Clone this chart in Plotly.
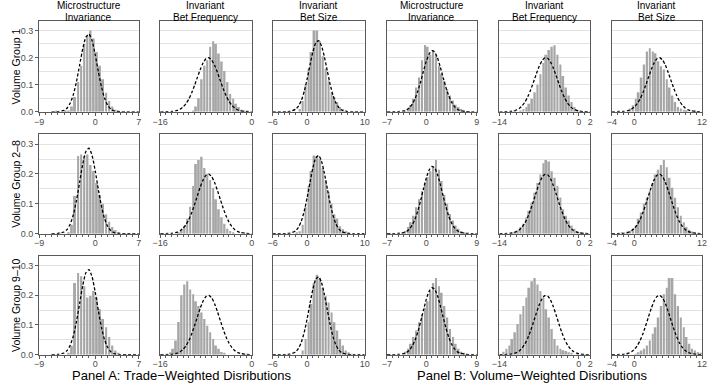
import plotly.graph_objects as go

W, H = 713, 386

# ---------------- data ----------------
col_title_top = ["Microstructure", "Invariant", "Invariant", "Microstructure", "Invariant", "Invariant"]
col_title_bottom = ["Invariance", "Bet Frequency", "Bet Size", "Invariance", "Bet Frequency", "Bet Size"]
row_labels = ["Volume Group 1", "Volume Group 2\u20138", "Volume Group 9\u201310"]
panel_labels = ["Panel A: Trade\u2212Weighted Disributions", "Panel B: Volume\u2212Weighted Disributions"]

x_ranges = [(-9, 7), (-16, 0), (-6, 10), (-7, 9), (-14, 2), (-4, 12)]
x_tickvals = [[-9, 0, 7], [-16, 0], [-6, 0, 10], [-7, 0, 9], [-14, 0, 2], [-4, 0, 12]]
y_tickvals = [0, 0.1, 0.2, 0.3]
y_ticktext = ["0.0", "0.1", "0.2", "0.3"]
bin_width = 0.5

# first bin centre of every histogram (rows x columns)
hist_start = [
    [-6.25, -10.25, -1.25, -3.75, -11.25, -2.75],
    [-5.75, -12.75, -1.75, -4.25, -11.75, -2.25],
    [-4.25, -14.25, -0.75, -3.75, -13.25, -1.25],
]

# densities of consecutive 0.5-wide bins
hist_r1c1 = [0.003, 0, 0, 0.002, 0.005, 0.02, 0.055, 0.11, 0.17, 0.25, 0.28, 0.30, 0.27, 0.22, 0.17, 0.12, 0.07, 0.04, 0.02, 0.008, 0.003]
hist_r1c2 = [0.005, 0.02, 0.05, 0.12, 0.17, 0.19, 0.24, 0.26, 0.25, 0.215, 0.185, 0.15, 0.11, 0.066, 0.048, 0.03, 0.018, 0.008, 0.003, 0.002]
hist_r1c3 = [0.01, 0.04, 0.10, 0.16, 0.22, 0.30, 0.30, 0.26, 0.205, 0.16, 0.115, 0.072, 0.054, 0.036, 0.018, 0.01, 0.005]
hist_r1c4 = [0.004, 0.012, 0.024, 0.048, 0.09, 0.126, 0.19, 0.246, 0.24, 0.21, 0.228, 0.21, 0.17, 0.14, 0.114, 0.084, 0.06, 0.042, 0.026, 0.018, 0.01, 0.005]
hist_r1c5 = [0.003, 0, 0.005, 0.01, 0.018, 0.03, 0.048, 0.072, 0.10, 0.138, 0.18, 0.21, 0.228, 0.24, 0.245, 0.21, 0.174, 0.132, 0.09, 0.06, 0.036, 0.018, 0.008]
hist_r1c6 = [0.003, 0, 0, 0, 0.012, 0.024, 0.048, 0.072, 0.126, 0.174, 0.222, 0.234, 0.222, 0.216, 0.186, 0.168, 0.156, 0.12, 0.09, 0.06, 0.036, 0.018, 0.012, 0.008, 0.006, 0, 0, 0.003]

hist_r2c1 = [0.003, 0, 0, 0.005, 0.03, 0.126, 0.26, 0.265, 0.26, 0.265, 0.23, 0.21, 0.17, 0.13, 0.10, 0.065, 0.04, 0.022, 0.012, 0.005]
hist_r2c2 = [0.004, 0.012, 0.025, 0.05, 0.09, 0.16, 0.233, 0.247, 0.258, 0.22, 0.20, 0.18, 0.154, 0.115, 0.082, 0.055, 0.033, 0.016, 0.009, 0.004]
hist_r2c3 = [0.003, 0.008, 0.03, 0.09, 0.16, 0.21, 0.262, 0.26, 0.25, 0.22, 0.18, 0.14, 0.10, 0.065, 0.05, 0.025, 0.015, 0.008, 0.004]
hist_r2c4 = [0.004, 0.009, 0.022, 0.038, 0.06, 0.088, 0.115, 0.143, 0.17, 0.19, 0.209, 0.225, 0.247, 0.214, 0.176, 0.13, 0.10, 0.066, 0.044, 0.027, 0.016, 0.009, 0.005]
hist_r2c5 = [0.004, 0.006, 0.011, 0.022, 0.033, 0.055, 0.077, 0.104, 0.137, 0.17, 0.198, 0.236, 0.247, 0.242, 0.209, 0.187, 0.16, 0.121, 0.082, 0.06, 0.044, 0.027, 0.016, 0.008, 0.005]
hist_r2c6 = [0.004, 0, 0.006, 0.01, 0.016, 0.027, 0.05, 0.071, 0.1, 0.121, 0.143, 0.17, 0.198, 0.214, 0.23, 0.247, 0.222, 0.187, 0.154, 0.12, 0.088, 0.06, 0.038, 0.022, 0.013, 0.007, 0.004]

hist_r3c1 = [0.005, 0.03, 0.241, 0.275, 0.264, 0.23, 0.192, 0.197, 0.214, 0.192, 0.153, 0.12, 0.092, 0.059, 0.031, 0.014, 0.006]
hist_r3c2 = [0.008, 0.02, 0.048, 0.11, 0.2, 0.236, 0.247, 0.219, 0.203, 0.18, 0.164, 0.142, 0.12, 0.097, 0.075, 0.053, 0.031, 0.02, 0.009, 0.005]
hist_r3c3 = [0.014, 0.053, 0.109, 0.17, 0.241, 0.269, 0.258, 0.225, 0.197, 0.175, 0.142, 0.109, 0.081, 0.053, 0.031, 0.014, 0.008, 0.003]
hist_r3c4 = [0.01, 0.02, 0.037, 0.059, 0.081, 0.109, 0.136, 0.158, 0.18, 0.214, 0.241, 0.258, 0.23, 0.208, 0.164, 0.125, 0.086, 0.059, 0.037, 0.02, 0.01, 0.005]
hist_r3c5 = [0.01, 0.02, 0.031, 0.053, 0.075, 0.103, 0.136, 0.164, 0.192, 0.225, 0.247, 0.258, 0.236, 0.214, 0.192, 0.153, 0.125, 0.086, 0.053, 0.031, 0.02, 0.015, 0.012, 0.008, 0.005, 0, 0.003]
hist_r3c6 = [0.005, 0, 0, 0.003, 0.008, 0.014, 0.02, 0.031, 0.048, 0.07, 0.092, 0.125, 0.164, 0.203, 0.225, 0.258, 0.258, 0.203, 0.164, 0.125, 0.092, 0.059, 0.037, 0.02, 0.014, 0.009, 0.006]

hist_values = [
    [hist_r1c1, hist_r1c2, hist_r1c3, hist_r1c4, hist_r1c5, hist_r1c6],
    [hist_r2c1, hist_r2c2, hist_r2c3, hist_r2c4, hist_r2c5, hist_r2c6],
    [hist_r3c1, hist_r3c2, hist_r3c3, hist_r3c4, hist_r3c5, hist_r3c6],
]

# benchmark (normal) density curves, one per column
curve_c1_x = [-7, -6, -5, -4.5, -4, -3.5, -3, -2.5, -2, -1.5, -1, -0.5, 0, 0.5, 1, 1.5, 2, 2.5, 3, 4, 5, 7]
curve_c1_y = [0, 0.0006, 0.0056, 0.0142, 0.0323, 0.0642, 0.1123, 0.1724, 0.2330, 0.2753, 0.2862, 0.2614, 0.2100, 0.1479, 0.0917, 0.0499, 0.0239, 0.0100, 0.0037, 0.0004, 0, 0]
curve_c2_x = [-16, -14, -13, -12.5, -12, -11.5, -11, -10.5, -10, -9.5, -9, -8.5, -8, -7.5, -7, -6.5, -6, -5.5, -5, -4.5, -4, -3.5, -3, -2.5, -2, -1, 0]
curve_c2_y = [0, 0.0012, 0.0052, 0.0099, 0.0178, 0.0298, 0.0470, 0.0697, 0.0971, 0.1270, 0.1561, 0.1802, 0.1955, 0.1992, 0.1907, 0.1714, 0.1449, 0.1150, 0.0857, 0.0600, 0.0395, 0.0244, 0.0142, 0.0077, 0.0040, 0.0009, 0.0001]
curve_c3_x = [-6, -3, -2, -1.5, -1, -0.5, 0, 0.5, 1, 1.5, 2, 2.5, 3, 3.5, 4, 4.5, 5, 5.5, 6, 7, 8, 10]
curve_c3_y = [0, 0.0015, 0.0097, 0.0214, 0.0424, 0.0753, 0.1201, 0.1719, 0.2205, 0.2537, 0.2619, 0.2427, 0.2020, 0.1513, 0.1013, 0.0609, 0.0328, 0.0159, 0.0068, 0.0009, 0.0001, 0]
curve_c4_x = [-7, -5, -4, -3.5, -3, -2.5, -2, -1.5, -1, -0.5, 0, 0.5, 1, 1.5, 2, 2.5, 3, 3.5, 4, 4.5, 5, 5.5, 6, 7, 8, 9]
curve_c4_y = [0, 0.0006, 0.0036, 0.0077, 0.0153, 0.0287, 0.0488, 0.0765, 0.1110, 0.1498, 0.1857, 0.2128, 0.2250, 0.2197, 0.1980, 0.1649, 0.1266, 0.0899, 0.0590, 0.0357, 0.0201, 0.0102, 0.0049, 0.0009, 0.0002, 0]
curve_c5_x = [-14, -13, -12, -11, -10.5, -10, -9.5, -9, -8.5, -8, -7.5, -7, -6.5, -6, -5.5, -5, -4.5, -4, -3.5, -3, -2.5, -2, -1.5, -1, 0, 1, 2]
curve_c5_y = [0, 0.0003, 0.0016, 0.0068, 0.0126, 0.0220, 0.0361, 0.0555, 0.0802, 0.1089, 0.1390, 0.1666, 0.1876, 0.1985, 0.1972, 0.1841, 0.1615, 0.1331, 0.1029, 0.0748, 0.0511, 0.0328, 0.0198, 0.0112, 0.0030, 0.0006, 0.0001]
curve_c6_x = [-4, -3, -2, -1, -0.5, 0, 0.5, 1, 1.5, 2, 2.5, 3, 3.5, 4, 4.5, 5, 5.5, 6, 6.5, 7, 7.5, 8, 8.5, 9, 9.5, 10, 11, 12]
curve_c6_y = [0, 0.0002, 0.0012, 0.0052, 0.0099, 0.0178, 0.0298, 0.0470, 0.0697, 0.0971, 0.1270, 0.1561, 0.1802, 0.1955, 0.1992, 0.1907, 0.1714, 0.1449, 0.1150, 0.0857, 0.0600, 0.0395, 0.0244, 0.0142, 0.0077, 0.0040, 0.0009, 0.0001]

curves_x = [curve_c1_x, curve_c2_x, curve_c3_x, curve_c4_x, curve_c5_x, curve_c6_x]
curves_y = [curve_c1_y, curve_c2_y, curve_c3_y, curve_c4_y, curve_c5_y, curve_c6_y]

# ---------------- layout geometry (pixels) ----------------
col_px = [(31.7, 133.3), (155, 248.3), (269.5, 363.3), (386, 477.5), (500.5, 593), (615, 707)]
row_px = [(21.7, 113.3), (136, 236.7), (259, 359.3)]
Y_MAX = 0.333

FONT = "Liberation Sans, Arial, Helvetica, sans-serif"
BAR_COLOR = "#a6a6a6"
LINE_COLOR = "#5a5a5a"
GRID_COLOR = "#e3e3e3"
TICK_FONT_COLOR = "#4d4d4d"


def px_x(p):
    return p / W


def px_y(p):
    return 1 - p / H


fig = go.Figure()
layout_axes = {}

for r in range(3):
    for c in range(6):
        k = r * 6 + c + 1
        xs = "x" if k == 1 else f"x{k}"
        ys = "y" if k == 1 else f"y{k}"
        vals = hist_values[r][c]
        centers = [hist_start[r][c] + bin_width * i for i in range(len(vals))]
        fig.add_trace(go.Bar(
            x=centers, y=vals, xaxis=xs, yaxis=ys,
            marker=dict(color=BAR_COLOR, line=dict(width=0)),
            showlegend=False, hoverinfo="skip",
        ))
        fig.add_trace(go.Scatter(
            x=curves_x[c], y=curves_y[c], xaxis=xs, yaxis=ys, mode="lines",
            line=dict(color="black", width=1.3, dash="3px,2px", shape="spline", smoothing=0.6),
            showlegend=False, hoverinfo="skip",
        ))
        x0, x1 = x_ranges[c]
        xa = dict(
            domain=[px_x(col_px[c][0]), px_x(col_px[c][1])],
            range=[x0, x1], anchor=ys,
            tickmode="array", tickvals=x_tickvals[c], ticktext=[str(v).replace("-", "\u2212") for v in x_tickvals[c]],
            ticks="outside", ticklen=3, tickwidth=1, tickcolor=LINE_COLOR,
            ticklabelstandoff=-2,
            tickfont=dict(family=FONT, size=9, color=TICK_FONT_COLOR),
            showline=True, linecolor=LINE_COLOR, linewidth=1, mirror=True,
            showgrid=False, zeroline=False, fixedrange=True,
            minor=dict(tickmode="linear", tick0=x0, dtick=1, ticks="outside", ticklen=2,
                       tickcolor=LINE_COLOR, showgrid=False),
        )
        ya = dict(
            domain=[px_y(row_px[r][1]), px_y(row_px[r][0])],
            range=[0, Y_MAX], anchor=xs,
            tickmode="array", tickvals=y_tickvals, ticktext=y_ticktext,
            showgrid=True, gridcolor=GRID_COLOR, gridwidth=1,
            minor=dict(tickmode="linear", tick0=0, dtick=0.05, showgrid=True, gridcolor=GRID_COLOR, ticks=""),
            showline=True, linecolor=LINE_COLOR, linewidth=1, mirror=True,
            zeroline=False, fixedrange=True,
            tickfont=dict(family=FONT, size=9, color=TICK_FONT_COLOR),
        )
        if c == 0:
            ya.update(ticks="outside", ticklen=3, tickcolor=LINE_COLOR, showticklabels=True)
        else:
            ya.update(ticks="", showticklabels=False)
        layout_axes["xaxis" if k == 1 else f"xaxis{k}"] = xa
        layout_axes["yaxis" if k == 1 else f"yaxis{k}"] = ya

annotations = []
for c in range(6):
    cx = px_x((col_px[c][0] + col_px[c][1]) / 2)
    annotations.append(dict(text=col_title_top[c], x=cx, y=px_y(6), xref="paper", yref="paper",
                            xanchor="center", yanchor="middle", showarrow=False,
                            font=dict(family=FONT, size=10, color="black")))
    annotations.append(dict(text=col_title_bottom[c], x=cx, y=px_y(17.5), xref="paper", yref="paper",
                            xanchor="center", yanchor="middle", showarrow=False,
                            font=dict(family=FONT, size=10, color="black")))
for r in range(3):
    cy = px_y((row_px[r][0] + row_px[r][1]) / 2)
    annotations.append(dict(text=row_labels[r], x=px_x(8), y=cy, xref="paper", yref="paper",
                            xanchor="center", yanchor="middle", textangle=-90, showarrow=False,
                            font=dict(family=FONT, size=10.5, color="black")))
panel_cx = [177, 534]
for i in range(2):
    annotations.append(dict(text=panel_labels[i], x=px_x(panel_cx[i]), y=px_y(380.5), xref="paper", yref="paper",
                            xanchor="center", yanchor="middle", showarrow=False,
                            font=dict(family=FONT, size=13, color="black")))

fig.update_layout(
    width=W, height=H, margin=dict(l=0, r=0, t=0, b=0),
    paper_bgcolor="white", plot_bgcolor="white",
    bargap=0.38, barmode="overlay",
    annotations=annotations,
    **layout_axes,
)

fig.write_html("out.html", config={"displayModeBar": False},
               post_script="document.body.style.margin='0px';document.body.style.overflow='hidden';")
